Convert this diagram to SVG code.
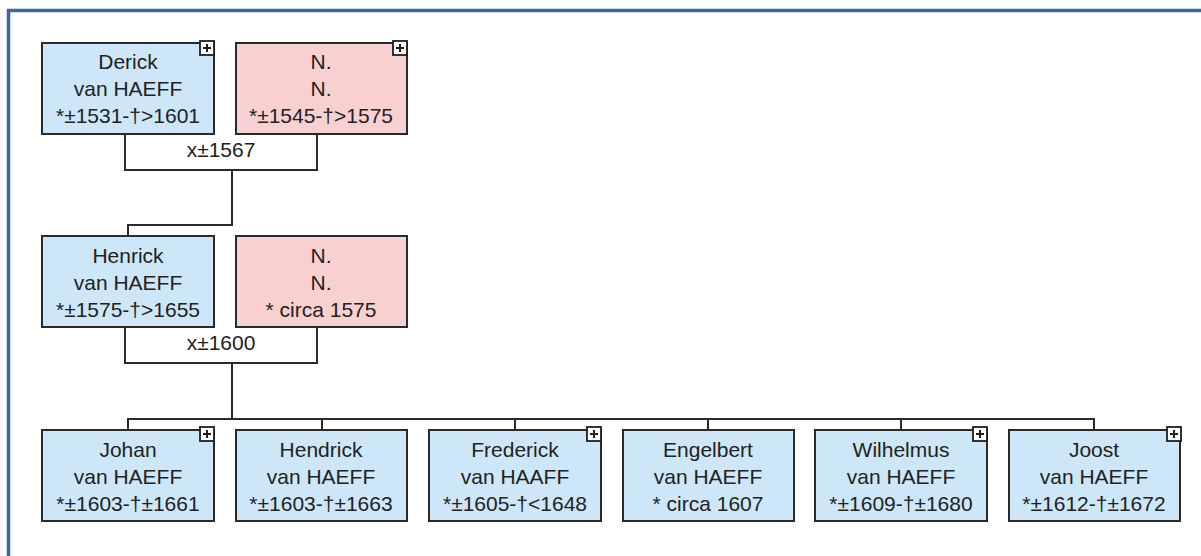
<svg xmlns="http://www.w3.org/2000/svg" width="1201" height="556" viewBox="0 0 1201 556">
<defs>
<style>
.m{fill:#cde7f8;stroke:#2a2a2a;stroke-width:2}
.f{fill:#f9d0d0;stroke:#2a2a2a;stroke-width:2}
.t{font-family:"Liberation Sans",Arial,sans-serif;font-size:21px;fill:#222222;text-anchor:middle}
.c{fill:none;stroke:#2a2a2a;stroke-width:2}
.pb{fill:#ffffff;stroke:#1e1e1e;stroke-width:1.8}
.pl{stroke:#1e1e1e;stroke-width:2}
</style>
<g id="plus">
<rect class="pb" x="0" y="0" width="14" height="14"/>
<line class="pl" x1="3" y1="7" x2="11" y2="7"/>
<line class="pl" x1="7" y1="3" x2="7" y2="11"/>
</g>
</defs>
<rect x="0" y="0" width="1201" height="556" fill="#ffffff"/>
<g id="frame">
<line x1="7" y1="10.5" x2="1201" y2="10.5" stroke="#3d679e" stroke-width="3.5"/>
<line x1="8.5" y1="9" x2="8.5" y2="556" stroke="#3d679e" stroke-width="3.5"/>
</g>
<g id="connectors">
<polyline class="c" points="125,134 125,170 317,170 317,134"/>
<polyline class="c" points="232,170 232,225 128,225 128,236"/>
<polyline class="c" points="125,327 125,363 317,363 317,327"/>
<line class="c" x1="232" y1="363" x2="232" y2="419"/>
<line class="c" x1="127" y1="419" x2="1095" y2="419"/>
<line class="c" x1="128" y1="419" x2="128" y2="430"/>
<line class="c" x1="322" y1="419" x2="322" y2="430"/>
<line class="c" x1="515" y1="419" x2="515" y2="430"/>
<line class="c" x1="708" y1="419" x2="708" y2="430"/>
<line class="c" x1="901" y1="419" x2="901" y2="430"/>
<line class="c" x1="1094" y1="419" x2="1094" y2="430"/>
<text class="t" x="221" y="157">x±1567</text>
<text class="t" x="221" y="350">x±1600</text>
</g>
<g id="derick">
<rect class="m" x="42" y="43" width="172" height="91"/>
<text class="t" x="128" y="69">Derick</text>
<text class="t" x="128" y="96">van HAEFF</text>
<text class="t" x="128" y="123">*±1531-†&gt;1601</text>
<use href="#plus" x="200" y="41"/>
</g>
<g id="nn1">
<rect class="f" x="236" y="43" width="171" height="91"/>
<text class="t" x="321" y="69">N.</text>
<text class="t" x="321" y="96">N.</text>
<text class="t" x="321" y="123">*±1545-†&gt;1575</text>
<use href="#plus" x="393" y="41"/>
</g>
<g id="henrick">
<rect class="m" x="42" y="236" width="172" height="91"/>
<text class="t" x="128" y="263">Henrick</text>
<text class="t" x="128" y="290">van HAEFF</text>
<text class="t" x="128" y="317">*±1575-†&gt;1655</text>
</g>
<g id="nn2">
<rect class="f" x="236" y="236" width="171" height="91"/>
<text class="t" x="321" y="263">N.</text>
<text class="t" x="321" y="290">N.</text>
<text class="t" x="321" y="317">* circa 1575</text>
</g>
<g id="johan">
<rect class="m" x="42" y="430" width="172" height="91"/>
<text class="t" x="128" y="457">Johan</text>
<text class="t" x="128" y="484">van HAEFF</text>
<text class="t" x="128" y="511">*±1603-†±1661</text>
<use href="#plus" x="200" y="427"/>
</g>
<g id="hendrick">
<rect class="m" x="236" y="430" width="171" height="91"/>
<text class="t" x="321" y="457">Hendrick</text>
<text class="t" x="321" y="484">van HAEFF</text>
<text class="t" x="321" y="511">*±1603-†±1663</text>
</g>
<g id="frederick">
<rect class="m" x="429" y="430" width="172" height="91"/>
<text class="t" x="515" y="457">Frederick</text>
<text class="t" x="515" y="484">van HAAFF</text>
<text class="t" x="515" y="511">*±1605-†&lt;1648</text>
<use href="#plus" x="587" y="427"/>
</g>
<g id="engelbert">
<rect class="m" x="623" y="430" width="171" height="91"/>
<text class="t" x="708" y="457">Engelbert</text>
<text class="t" x="708" y="484">van HAEFF</text>
<text class="t" x="708" y="511">* circa 1607</text>
</g>
<g id="wilhelmus">
<rect class="m" x="815" y="430" width="172" height="91"/>
<text class="t" x="901" y="457">Wilhelmus</text>
<text class="t" x="901" y="484">van HAEFF</text>
<text class="t" x="901" y="511">*±1609-†±1680</text>
<use href="#plus" x="973" y="427"/>
</g>
<g id="joost">
<rect class="m" x="1009" y="430" width="171" height="91"/>
<text class="t" x="1094" y="457">Joost</text>
<text class="t" x="1094" y="484">van HAEFF</text>
<text class="t" x="1094" y="511">*±1612-†±1672</text>
<use href="#plus" x="1167" y="427"/>
</g>
</svg>
